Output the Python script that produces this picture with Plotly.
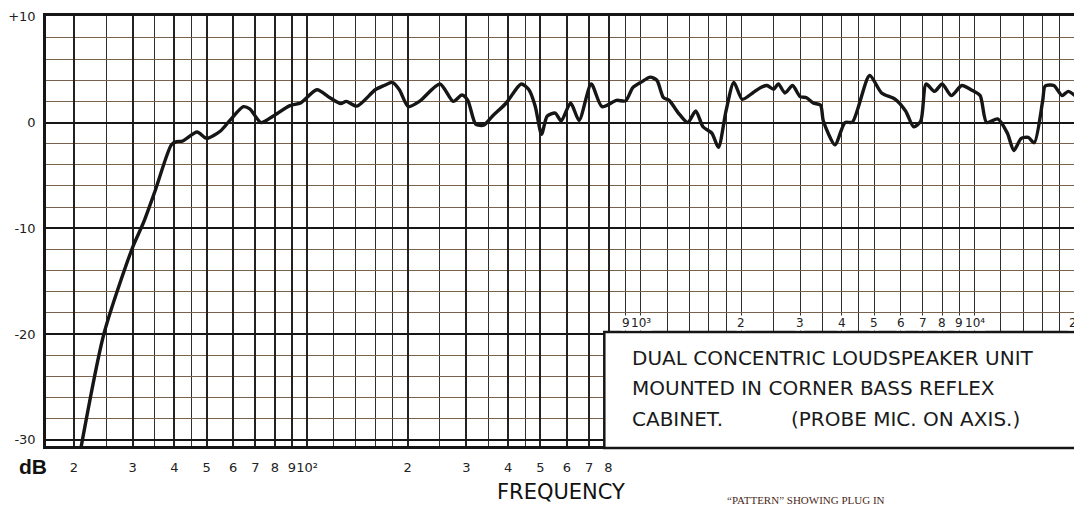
import numpy as np
import plotly.graph_objects as go

# ---- data (frequency in Hz, level in dB) ----
freq_hz = [20.8, 24.6, 30, 32.3, 35, 39.2, 40.6, 42.3, 46.8, 50, 55, 58.5, 64.4, 67.3,
           72.8, 79, 88.8, 95.6, 107, 117, 126, 131, 141, 160, 170, 180, 189, 201, 217,
           250, 274, 291, 303, 320, 338, 359, 395, 438, 462, 482, 504, 524, 554, 577,
           616, 653, 710, 765, 845, 900, 946, 1000, 1067, 1117, 1169, 1216, 1296, 1382,
           1461, 1535, 1632, 1708, 1800, 1900, 2013, 2163, 2281, 2388, 2500, 2583, 2703,
           2849, 3000, 3137, 3285, 3455, 3523, 3817, 4089, 4307, 4848, 5264, 5788, 6213,
           6574, 6900, 7158, 7590, 8000, 8518, 9159, 9826, 10390, 10870, 11730, 12540,
           13110, 13800, 14480, 15100, 16000, 16280, 17280, 18290, 19080, 20320]
level_db = [-31.5, -20, -11.8, -9.5, -6.5, -2.1, -1.8, -1.75, -0.9, -1.5, -0.8, 0.15, 1.5, 1.3,
            0.0, 0.6, 1.6, 1.85, 3.1, 2.35, 1.8, 2.0, 1.55, 3.1, 3.5, 3.8, 3.1, 1.5, 2.0,
            3.65, 2.0, 2.6, 2.1, -0.15, -0.25, 0.6, 1.85, 3.65, 3.1, 1.6, -1.1, 0.6, 0.9, 0.15,
            1.85, 0.2, 3.65, 1.5, 2.1, 2.05, 3.3, 3.8, 4.3, 4.0, 2.35, 2.1, 0.9, 0.0,
            1.1, -0.4, -1.0, -2.35, 1.1, 3.8, 2.2, 2.8, 3.3, 3.5, 3.15, 3.65, 2.8,
            3.5, 2.45, 2.35, 1.85, 1.65, 0.15, -2.1, 0.0, 0.05, 4.45, 2.8, 2.2, 1.1,
            -0.4, 0.15, 3.65, 2.95, 3.65, 2.55, 3.5, 3.05, 2.55, 0.0, 0.35, -1.0,
            -2.65, -1.5, -1.4, -1.9, 2.05, 3.45, 3.5, 2.55, 2.95, 2.35]

# ---- chart paper / labels ----
grid_multipliers = [1, 1.2, 1.4, 1.6, 1.8, 2, 2.5, 3, 3.5, 4, 4.5, 5, 6, 7, 8, 9]
grid_decades = [10, 100, 1000, 10000]
bottom_tick_hz = [20, 30, 40, 50, 60, 70, 80, 90, 100, 200, 300, 400, 500, 600, 700, 800]
bottom_tick_text = ["2", "3", "4", "5", "6", "7", "8", "9", "10²",
                    "2", "3", "4", "5", "6", "7", "8"]
top_tick_hz = [900, 1000, 2000, 3000, 4000, 5000, 6000, 7000, 8000, 9000, 10000, 20000]
top_tick_text = ["9", "10³", "2", "3", "4", "5", "6", "7", "8", "9", "10⁴", "2"]
y_tick_db = [10, 0, -10, -20, -30]
y_tick_text = ["+10", "0", "-10", "-20", "-30"]
caption_lines = ["DUAL CONCENTRIC LOUDSPEAKER UNIT",
                 "MOUNTED IN CORNER BASS REFLEX",
                 "CABINET.",
                 "(PROBE MIC. ON AXIS.)"]

x_range_hz = (16.5, 20700)
y_range_db = (-30.6, 10.08)

grid_hz = sorted(m * d for d in grid_decades for m in grid_multipliers
                 if 20 <= m * d <= 20000)
minor_grid_hz = [g for g in grid_hz if g not in bottom_tick_hz]

# page body has a small margin; lay the figure out in window pixels
OFF = 7
WIN_W, WIN_H = 1082, 508
W, H = WIN_W - OFF, WIN_H - OFF
PLOT_L, PLOT_R, PLOT_T, PLOT_B = 43, 1082, 15, 445  # window pixels
ML, MR, MT = PLOT_L - OFF, WIN_W - PLOT_R, PLOT_T - OFF
MB = H - (PLOT_B - OFF)
PW, PH = W - ML - MR, H - MT - MB


def px_x(px):
    return (px - PLOT_L) / PW


def px_y(py):
    return (PLOT_B - py) / PH


INK = "#161616"
FONT = "DejaVu Sans"

fig = go.Figure()
fig.add_trace(go.Scatter(
    x=freq_hz, y=level_db, mode="lines",
    line=dict(color=INK, width=3.4, shape="spline", smoothing=0.7),
    showlegend=False, hoverinfo="x+y"))

fig.update_layout(
    width=W, height=H, autosize=False,
    margin=dict(l=ML, r=MR, t=MT, b=MB, pad=0),
    paper_bgcolor="white", plot_bgcolor="white",
    xaxis=dict(
        type="log", range=[np.log10(x_range_hz[0]), np.log10(x_range_hz[1])],
        tickmode="array", tickvals=bottom_tick_hz, ticktext=bottom_tick_text,
        tickangle=0,
        showgrid=True, gridcolor="#222222", gridwidth=1.5,
        minor=dict(tickmode="array", tickvals=minor_grid_hz, showgrid=True,
                   gridcolor="#2e2e2e", gridwidth=1.3, ticks=""),
        ticks="", ticklabelstandoff=8,
        tickfont=dict(family=FONT, size=13, color="#222"),
        showline=True, linecolor=INK, linewidth=2.5, mirror=True,
        zeroline=False, fixedrange=True),
    yaxis=dict(
        range=list(y_range_db),
        tickmode="array", tickvals=y_tick_db, ticktext=y_tick_text,
        showgrid=True, gridcolor=INK, gridwidth=2,
        minor=dict(dtick=2, tick0=0, showgrid=True, gridcolor="#7a624c",
                   gridwidth=1.3, ticks=""),
        ticks="", ticklabelstandoff=5,
        tickfont=dict(family=FONT, size=13, color="#222"),
        showline=True, linecolor=INK, linewidth=2.5, mirror=True,
        zeroline=False, fixedrange=True),
)

# caption box covering the lower-right part of the grid
fig.add_shape(type="rect", xref="paper", yref="paper",
              x0=px_x(604), x1=1.02, y0=px_y(447), y1=px_y(331),
              fillcolor="white", line=dict(color=INK, width=2.5), layer="above")

annotations = []
# upper frequency labels above the box
for i, (f, t) in enumerate(zip(top_tick_hz, top_tick_text)):
    last = i == len(top_tick_hz) - 1
    annotations.append(dict(x=np.log10(f), xref="x", y=px_y(322), yref="paper",
                            text=t, showarrow=False, bgcolor="white", borderpad=0,
                            font=dict(family=FONT, size=12, color="#222"),
                            xanchor="right" if last else "center",
                            xshift=3 if last else 0, yanchor="middle"))
# caption text
cap_pos = [(630, 357), (630, 387), (630, 418), (790, 418)]
for (cx, cy), t in zip(cap_pos, caption_lines):
    annotations.append(dict(x=px_x(cx), y=px_y(cy), xref="paper", yref="paper",
                            text=t, showarrow=False, xanchor="left", yanchor="middle",
                            font=dict(family=FONT, size=20, color="#1a1a1a")))
annotations.append(dict(x=px_x(30), y=px_y(466), xref="paper", yref="paper",
                        text="<b>dB</b>", showarrow=False, xanchor="center",
                        yanchor="middle",
                        font=dict(family="Liberation Sans", size=21, color="#111")))
annotations.append(dict(x=px_x(560), y=px_y(491), xref="paper", yref="paper",
                        text="FREQUENCY", showarrow=False, xanchor="center",
                        yanchor="middle",
                        font=dict(family=FONT, size=21, color="#111")))
annotations.append(dict(x=px_x(725), y=px_y(507), xref="paper", yref="paper",
                        text="“PATTERN” SHOWING PLUG IN", showarrow=False,
                        xanchor="left", yanchor="bottom",
                        font=dict(family="Liberation Serif", size=11, color="#4a2818")))
fig.update_layout(annotations=annotations)

fig.write_html("out.html")
